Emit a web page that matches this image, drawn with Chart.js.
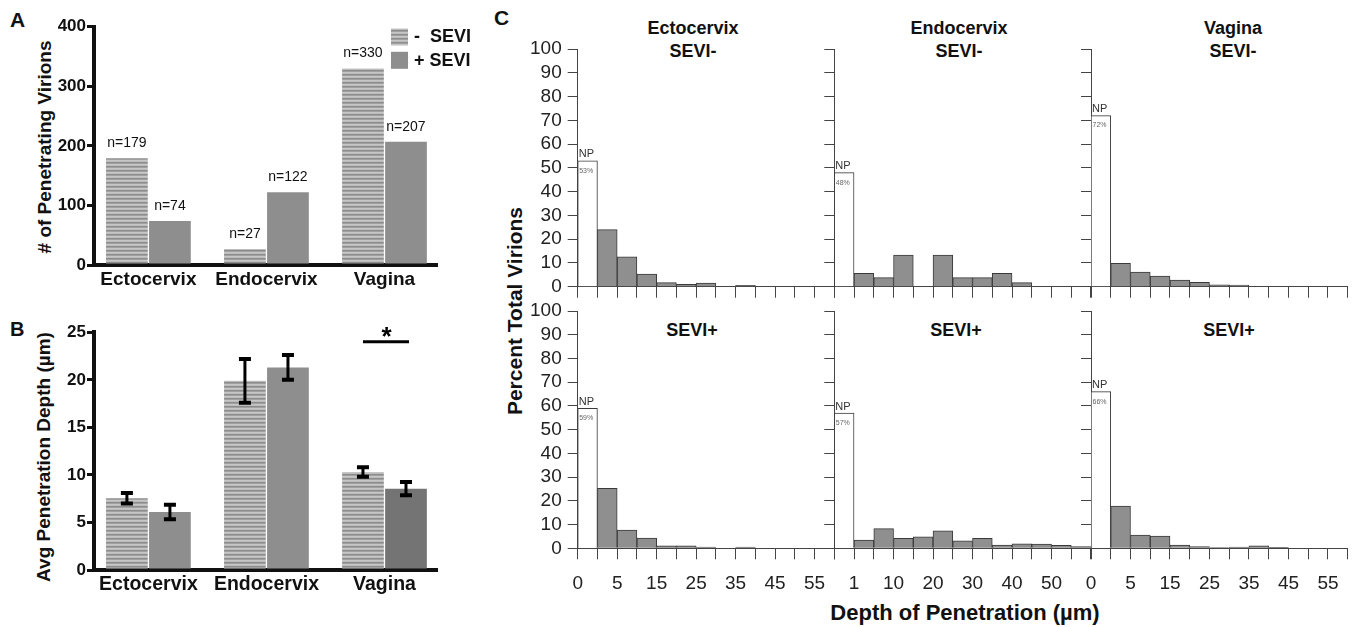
<!DOCTYPE html>
<html>
<head>
<meta charset="utf-8">
<script src="https://cdn.jsdelivr.net/npm/chart.js@4.4.1/dist/chart.umd.min.js"></script>
<style>
  body { margin: 0; background: #fff; }
  #fig { position: relative; width: 1355px; height: 627px; overflow: hidden;
         font-family: "Liberation Sans", Arial, sans-serif; color: #111; }
  canvas { position: absolute; }
  .lbl { position: absolute; font-weight: bold; line-height: 1; white-space: nowrap; }
  .sub { position: absolute; font-weight: bold; font-size: 18px; line-height: 22.5px;
         text-align: center; transform: translateX(-50%); white-space: nowrap; }
  .vt { position: absolute; font-weight: bold; line-height: 1; white-space: nowrap;
        transform: translate(-50%, -50%) rotate(-90deg); }
</style>
</head>
<body>
<div id="fig">
  <div class="lbl" style="left:10px;top:9px;font-size:21px">A</div>
  <div class="lbl" style="left:10px;top:319px;font-size:20px">B</div>
  <div class="lbl" style="left:494px;top:7px;font-size:21px">C</div>

  <div class="vt" style="left:44px;top:147px;font-size:19px"># of Penetrating Virions</div>
  <div class="vt" style="left:43px;top:457px;font-size:19px">Avg Penetration Depth (µm)</div>
  <div class="vt" style="left:514px;top:311px;font-size:21px">Percent Total Virions</div>
  <div class="lbl" style="left:965px;top:602px;font-size:22px;transform:translateX(-50%)">Depth of Penetration (µm)</div>

  <div class="sub" style="left:693px;top:17px">Ectocervix<br>SEVI-</div>
  <div class="sub" style="left:959px;top:17px">Endocervix<br>SEVI-</div>
  <div class="sub" style="left:1233px;top:17px">Vagina<br>SEVI-</div>
  <div class="sub" style="left:692px;top:319px">SEVI+</div>
  <div class="sub" style="left:956px;top:319px">SEVI+</div>
  <div class="sub" style="left:1229px;top:319px">SEVI+</div>

  <canvas id="cA" width="470" height="295" style="left:0;top:0"></canvas>
  <canvas id="cB" width="470" height="327" style="left:0;top:300px"></canvas>
  <canvas id="c1" width="320" height="300" style="left:520px;top:0"></canvas>
  <canvas id="c2" width="285" height="300" style="left:815px;top:0"></canvas>
  <canvas id="c3" width="283" height="300" style="left:1072px;top:0"></canvas>
  <canvas id="c4" width="320" height="327" style="left:520px;top:300px"></canvas>
  <canvas id="c5" width="285" height="327" style="left:815px;top:300px"></canvas>
  <canvas id="c6" width="283" height="327" style="left:1072px;top:300px"></canvas>
</div>
<script>
// ---- data ----
const tissues = ['Ectocervix', 'Endocervix', 'Vagina'];
const seriesNames = ['-  SEVI', '+ SEVI'];

const virionsMinus = [179, 27, 330];
const virionsPlus = [74, 122, 207];

const depthMinus = [7.55, 19.9, 10.3];
const depthMinusErr = [0.55, 2.3, 0.5];
const depthPlus = [6.1, 21.3, 8.55];
const depthPlusErr = [0.75, 1.3, 0.7];
const sigLevel = 24;

// percent of virions not penetrating (NP), per tissue
const npMinus = [53, 48, 72];
const npPlus = [59, 57, 66];

// percent per 5 um depth bin (12 bins after NP)
const binsEctoMinus = [24, 12.6, 5.3, 1.7, 1.0, 1.5, 0, 0.6, 0, 0, 0, 0];
const binsEndoMinus = [5.6, 3.8, 13.3, 0, 13.3, 3.8, 3.8, 5.6, 1.7, 0, 0, 0];
const binsVagMinus = [9.8, 6.2, 4.5, 2.8, 1.8, 0.8, 0.7, 0, 0, 0, 0, 0];
const binsEctoPlus = [25.3, 7.7, 4.3, 1.0, 1.0, 0.5, 0, 0.5, 0, 0, 0, 0];
const binsEndoPlus = [3.5, 8.3, 4.2, 4.8, 7.4, 3.1, 4.2, 1.4, 1.9, 1.8, 1.3, 0.7];
const binsVagPlus = [17.8, 5.6, 5.2, 1.4, 0.7, 0.3, 0.5, 1.0, 0.4, 0, 0, 0];

const depthTicksEven = ['0', '', '5', '', '15', '', '25', '', '35', '', '45', '', '55'];
const depthTicksOdd = ['', '1', '', '10', '', '20', '', '30', '', '40', '', '50', ''];

Chart.defaults.font.family = '"Liberation Sans", Arial, sans-serif';
Chart.defaults.color = '#111';

// horizontal stripe fill for the -SEVI bars
function stripePattern() {
    const c = document.createElement('canvas');
    c.width = 4; c.height = 4;
    const g = c.getContext('2d');
    const rows = ['#c6c6c6', '#bcbcbc', '#8c8c8c', '#a0a0a0'];
    rows.forEach((col, i) => { g.fillStyle = col; g.fillRect(0, i, 4, 1); });
    return g.createPattern(c, 'repeat');
}
const stripe = stripePattern();
const solidGray = '#8e8e8e';

/* ----------------------------------------------------
   shared axis pieces for panels A and B
---------------------------------------------------- */
function groupX(axisH, fontSize) {
    return {
        type: 'linear', min: -0.461, max: 2.445, offset: false,
        afterBuildTicks: s => { s.ticks = tissues.map((t, i) => ({ value: i })); },
        afterFit: s => { s.height = axisH; s.paddingLeft = 0; s.paddingRight = 0; },
        grid: { drawOnChartArea: false, drawTicks: false },
        border: { display: true, color: '#111', width: 4 },
        ticks: {
            autoSkip: false, maxRotation: 0, padding: 3,
            font: { size: fontSize, weight: 'bold' }, color: '#111',
            callback: v => tissues[v]
        }
    };
}

function boldY(max, step) {
    return {
        min: 0, max: max,
        afterFit: s => { s.width = 94; s.paddingTop = 0; s.paddingBottom = 0; },
        grid: { drawOnChartArea: false, drawTicks: true, tickLength: 7, lineWidth: 3, color: '#111' },
        border: { display: true, color: '#111', width: 4 },
        ticks: { stepSize: step, padding: 1, font: { size: 17, weight: 'bold' }, color: '#111' }
    };
}

/* ----------------------------------------------------
   A: number of penetrating virions
---------------------------------------------------- */
const countLabels = {
    id: 'countLabels',
    afterDatasetsDraw(chart) {
        const ctx = chart.ctx;
        ctx.save();
        ctx.font = '14px "Liberation Sans", Arial';
        ctx.fillStyle = '#111';
        ctx.textAlign = 'center';
        ctx.textBaseline = 'middle';
        chart.data.datasets.forEach((ds, di) => {
            chart.getDatasetMeta(di).data.forEach((bar, i) => {
                ctx.fillText('n=' + ds.data[i].y, bar.x, bar.y - 15);
            });
        });
        // legend
        const fills = [stripe, solidGray];
        ctx.font = 'bold 18px "Liberation Sans", Arial';
        ctx.textAlign = 'left';
        seriesNames.forEach((name, i) => {
            const y = 28.5 + i * 23.3;
            ctx.fillStyle = fills[i];
            ctx.fillRect(391, y, 17, 17);
            ctx.fillStyle = '#111';
            ctx.fillText(name, 414, y + 9);
        });
        ctx.restore();
    }
};

new Chart(document.getElementById('cA'), {
    type: 'bar',
    data: {
        datasets: [{
            label: seriesNames[0],
            data: tissues.map((t, i) => ({ x: i, y: virionsMinus[i] })),
            backgroundColor: stripe,
            categoryPercentage: 0.729, barPercentage: 0.97
        }, {
            label: seriesNames[1],
            data: tissues.map((t, i) => ({ x: i, y: virionsPlus[i] })),
            backgroundColor: solidGray,
            categoryPercentage: 0.729, barPercentage: 0.97
        }]
    },
    options: {
        responsive: false,
        animation: false,
        layout: { padding: { top: 26.7, right: 33, left: 0, bottom: 0 } },
        plugins: { legend: { display: false }, tooltip: { enabled: false } },
        scales: {
            x: groupX(30, 19),
            y: boldY(400, 100)
        }
    },
    plugins: [countLabels]
});

/* ----------------------------------------------------
   B: average penetration depth with SEM bars
---------------------------------------------------- */
const errorBars = {
    id: 'errorBars',
    afterDatasetsDraw(chart) {
        const ctx = chart.ctx;
        const yScale = chart.scales.y;
        const errs = [depthMinusErr, depthPlusErr];
        ctx.save();
        ctx.strokeStyle = '#000';
        chart.data.datasets.forEach((ds, di) => {
            chart.getDatasetMeta(di).data.forEach((bar, i) => {
                const v = ds.data[i].y, e = errs[di][i];
                const yt = yScale.getPixelForValue(v + e);
                const yb = yScale.getPixelForValue(v - e);
                ctx.lineWidth = 3;
                ctx.beginPath();
                ctx.moveTo(bar.x, yt); ctx.lineTo(bar.x, yb);
                ctx.stroke();
                ctx.lineWidth = 4;
                ctx.beginPath();
                ctx.moveTo(bar.x - 6, yt); ctx.lineTo(bar.x + 6, yt);
                ctx.moveTo(bar.x - 6, yb); ctx.lineTo(bar.x + 6, yb);
                ctx.stroke();
            });
        });
        // significance marker over vagina
        const m = chart.getDatasetMeta(0).data[2];
        const p = chart.getDatasetMeta(1).data[2];
        const ys = yScale.getPixelForValue(sigLevel);
        ctx.lineWidth = 3;
        ctx.beginPath();
        ctx.moveTo(m.x, ys); ctx.lineTo(p.x + 3, ys);
        ctx.stroke();
        ctx.fillStyle = '#000';
        ctx.font = 'bold 26px "Liberation Sans", Arial';
        ctx.textAlign = 'center';
        ctx.textBaseline = 'alphabetic';
        ctx.fillText('*', (m.x + p.x) / 2 + 2, ys + 3);
        ctx.restore();
    }
};

new Chart(document.getElementById('cB'), {
    type: 'bar',
    data: {
        datasets: [{
            label: seriesNames[0],
            data: tissues.map((t, i) => ({ x: i, y: depthMinus[i] })),
            backgroundColor: stripe,
            categoryPercentage: 0.729, barPercentage: 0.97
        }, {
            label: seriesNames[1],
            data: tissues.map((t, i) => ({ x: i, y: depthPlus[i] })),
            backgroundColor: [solidGray, solidGray, '#747474'],
            categoryPercentage: 0.729, barPercentage: 0.97
        }]
    },
    options: {
        responsive: false,
        animation: false,
        layout: { padding: { top: 32.3, right: 33, left: 0, bottom: 0 } },
        plugins: { legend: { display: false }, tooltip: { enabled: false } },
        scales: {
            x: groupX(57, 19.5),
            y: boldY(25, 5)
        }
    },
    plugins: [errorBars]
});

/* ----------------------------------------------------
   C: depth histograms, NP bar first
---------------------------------------------------- */
const npLabel = {
    id: 'npLabel',
    afterDatasetsDraw(chart) {
        const bar = chart.getDatasetMeta(0).data[0];
        const left = bar.x - bar.width / 2;
        const ctx = chart.ctx;
        ctx.save();
        ctx.textAlign = 'left';
        ctx.fillStyle = '#333';
        ctx.font = '11px "Liberation Sans", Arial';
        ctx.textBaseline = 'alphabetic';
        ctx.fillText('NP', left + 1, bar.y - 3.5);
        ctx.fillStyle = '#666';
        ctx.font = '7px "Liberation Sans", Arial';
        ctx.textBaseline = 'middle';
        ctx.fillText(chart.data.datasets[0].data[0] + '%', left + 1.5, bar.y + 10);
        ctx.restore();
    }
};

function histChart(id, np, bins, tickLabels, o) {
    const values = [np].concat(bins);
    return new Chart(document.getElementById(id), {
        type: 'bar',
        data: {
            labels: tickLabels,
            datasets: [{
                data: values,
                backgroundColor: values.map((v, i) => i === 0 ? '#ffffff' : '#8f8f8f'),
                borderColor: '#3a3a3a',
                borderWidth: 1,
                borderSkipped: 'bottom',
                categoryPercentage: 1,
                barPercentage: 1
            }]
        },
        options: {
            responsive: false,
            animation: false,
            layout: { padding: { top: o.top, right: o.right, left: 0, bottom: 0 } },
            plugins: { legend: { display: false }, tooltip: { enabled: false } },
            scales: {
                x: {
                    type: 'category', offset: true,
                    afterFit: s => { s.height = o.xHeight; s.paddingLeft = 0; s.paddingRight = 0; },
                    grid: { offset: true, drawOnChartArea: false, drawTicks: true, tickLength: 11, color: '#444' },
                    border: { display: true, color: '#444', width: 1 },
                    ticks: {
                        display: o.xLabels, autoSkip: false, maxRotation: 0, minRotation: 0,
                        labelOffset: -9.87, padding: 13, font: { size: 19 }, color: '#222'
                    }
                },
                y: {
                    min: 0, max: 100,
                    afterFit: s => { s.width = o.yWidth; s.paddingTop = 0; s.paddingBottom = 0; },
                    grid: { drawOnChartArea: false, drawTicks: true, tickLength: 10, color: '#444' },
                    border: { display: true, color: '#444', width: 1 },
                    ticks: {
                        display: o.yLabels, autoSkip: false, stepSize: 10, padding: 6,
                        font: { size: 19 }, color: '#222'
                    }
                }
            }
        },
        plugins: [npLabel]
    });
}

const topRow = { top: 49, xHeight: 13.3, xLabels: false };
const botRow = { top: 11, xHeight: 78.7, xLabels: true };
const col1 = { yWidth: 57.7, right: 5.7, yLabels: true };
const col2 = { yWidth: 19.3, right: 9, yLabels: false };
const col3 = { yWidth: 19, right: 7.3, yLabels: false };

histChart('c1', npMinus[0], binsEctoMinus, depthTicksEven, Object.assign({}, topRow, col1));
histChart('c2', npMinus[1], binsEndoMinus, depthTicksOdd, Object.assign({}, topRow, col2));
histChart('c3', npMinus[2], binsVagMinus, depthTicksEven, Object.assign({}, topRow, col3));
histChart('c4', npPlus[0], binsEctoPlus, depthTicksEven, Object.assign({}, botRow, col1));
histChart('c5', npPlus[1], binsEndoPlus, depthTicksOdd, Object.assign({}, botRow, col2));
histChart('c6', npPlus[2], binsVagPlus, depthTicksEven, Object.assign({}, botRow, col3));
</script>
</body>
</html>
